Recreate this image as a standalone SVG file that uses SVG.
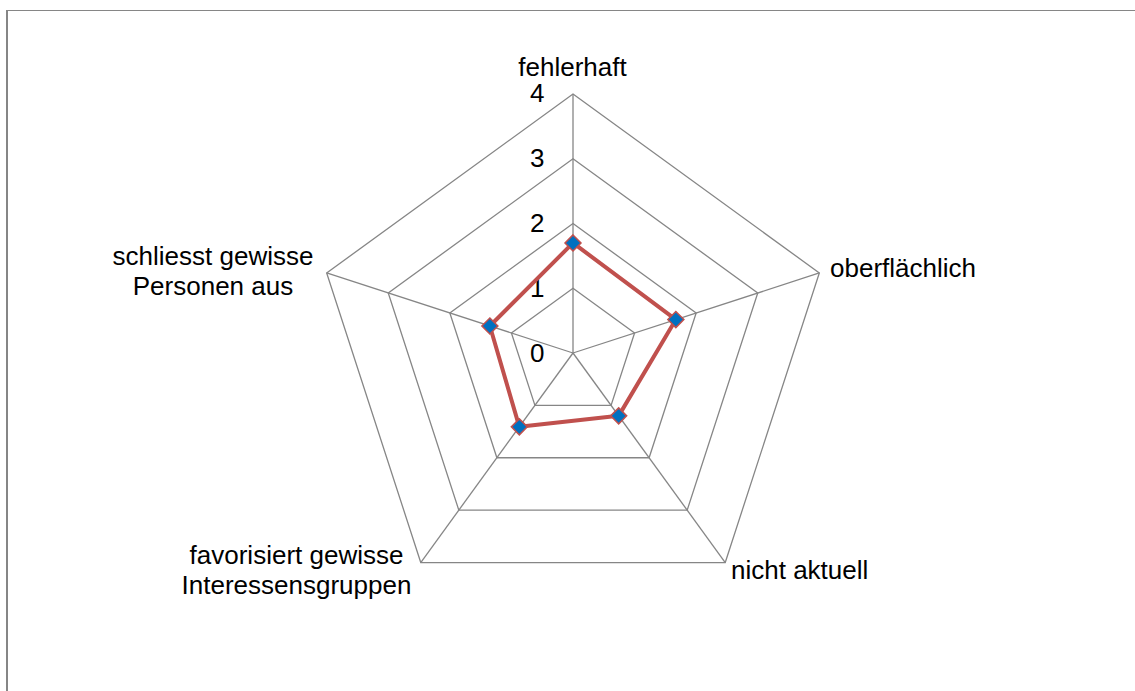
<svg xmlns="http://www.w3.org/2000/svg" width="1135" height="691" viewBox="0 0 1135 691">
<style>
.grid{fill:none;stroke:#868686;stroke-width:1.3}
.lbl{font-family:"Liberation Sans",Arial,sans-serif;font-size:26px;fill:#000}
.series{fill:none;stroke:#C0504D;stroke-width:4;stroke-linejoin:round}
.mk{fill:#0070C0;stroke:#C0504D;stroke-width:1.5}
</style>
<defs>
<path id="dia" d="M0,-8 L8,0 L0,8 L-8,0Z"/>
</defs>
<rect x="0" y="0" width="1135" height="691" fill="#fff"/>
<g id="frame">
<line x1="6" y1="10.5" x2="1135" y2="10.5" stroke="#868686" stroke-width="1.2"/>
<line x1="7" y1="10" x2="7" y2="691" stroke="#868686" stroke-width="2"/>
</g>
<g id="grid">
<polygon class="grid" points="573,94 819.32,272.97 725.24,562.53 420.76,562.53 326.68,272.97"/>
<polygon class="grid" points="573,158.75 757.74,292.97 687.18,510.15 458.82,510.15 388.26,292.97"/>
<polygon class="grid" points="573,223.5 696.16,312.98 649.12,457.77 496.88,457.77 449.84,312.98"/>
<polygon class="grid" points="573,288.25 634.58,332.99 611.06,405.38 534.94,405.38 511.42,332.99"/>
<line class="grid" x1="573" y1="353" x2="573" y2="94"/>
<line class="grid" x1="573" y1="353" x2="819.32" y2="272.97"/>
<line class="grid" x1="573" y1="353" x2="725.24" y2="562.53"/>
<line class="grid" x1="573" y1="353" x2="420.76" y2="562.53"/>
<line class="grid" x1="573" y1="353" x2="326.68" y2="272.97"/>
</g>
<g id="scale" class="lbl" text-anchor="end">
<text x="544.5" y="102">4</text>
<text x="544.5" y="167">3</text>
<text x="544.5" y="232">2</text>
<text x="544.5" y="297">1</text>
<text x="544.5" y="362">0</text>
</g>
<g id="connectors">
<polygon class="series" points="573,242.92 675.84,319.59 618.67,415.86 519.34,426.86 489.87,325.99"/>
</g>
<g id="markers">
<use href="#dia" class="mk" x="573" y="242.92"/>
<use href="#dia" class="mk" x="675.84" y="319.59"/>
<use href="#dia" class="mk" x="618.67" y="415.86"/>
<use href="#dia" class="mk" x="519.34" y="426.86"/>
<use href="#dia" class="mk" x="489.87" y="325.99"/>
</g>
<g id="node-fehlerhaft"><text class="lbl" x="572.5" y="76" text-anchor="middle">fehlerhaft</text></g>
<g id="node-oberflaechlich"><text class="lbl" x="830" y="277">oberflächlich</text></g>
<g id="node-nicht-aktuell"><text class="lbl" x="731" y="579">nicht aktuell</text></g>
<g id="node-favorisiert"><text class="lbl" text-anchor="middle"><tspan x="296.5" y="564">favorisiert gewisse</tspan><tspan x="296.5" y="594">Interessensgruppen</tspan></text></g>
<g id="node-schliesst"><text class="lbl" text-anchor="middle"><tspan x="213" y="265">schliesst gewisse</tspan><tspan x="213" y="295">Personen aus</tspan></text></g>
</svg>
